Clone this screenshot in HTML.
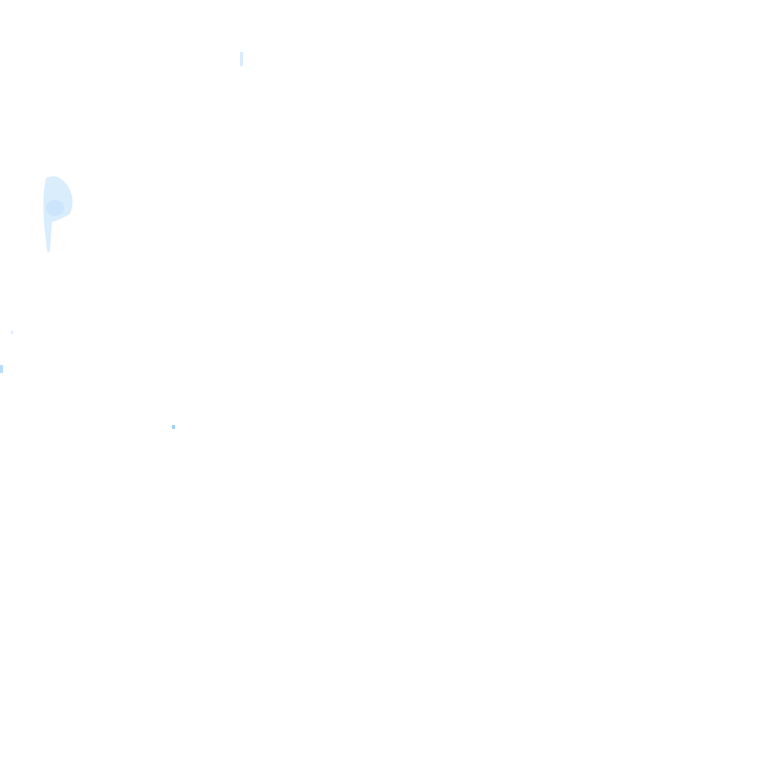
<!DOCTYPE html>
<html><head><meta charset="utf-8"><style>
html,body{margin:0;padding:0;background:#fff;width:768px;height:768px;overflow:hidden}
</style></head><body>
<svg width="768" height="768" xmlns="http://www.w3.org/2000/svg">
<rect width="768" height="768" fill="#fff"/>
<path d="M46 178 Q58 172 68 186 Q76 200 70 214 Q60 220 52 222 L50 250 Q47 258 46 240 Q42 215 44 190 Z" fill="#cfe8fd" opacity="0.8"/>
<ellipse cx="55" cy="208" rx="9" ry="8" fill="#bfe0fc" opacity="0.6"/>
<rect x="240" y="52" width="3" height="14" fill="#d8ecfd"/>
<rect x="172" y="425" width="3" height="4" fill="#9cd0f8"/>
<rect x="0" y="365" width="3" height="8" fill="#b8dcfb"/>
<rect x="11" y="331" width="2" height="3" fill="#d8ecfd"/>
</svg>
</body></html>
